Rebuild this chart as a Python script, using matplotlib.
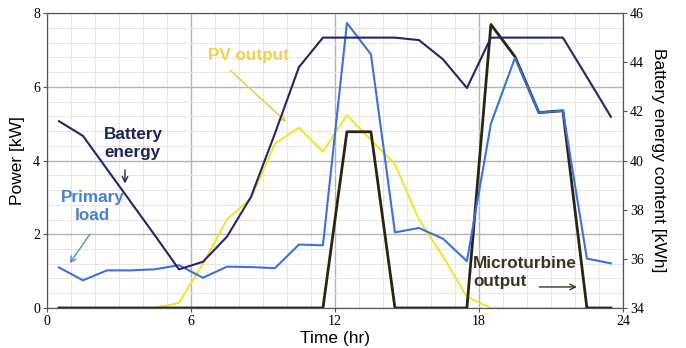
import matplotlib.pyplot as plt
from matplotlib.ticker import MultipleLocator

hours = [0.5, 1.5, 2.5, 3.5, 4.5, 5.5, 6.5, 7.5, 8.5, 9.5, 10.5, 11.5,
         12.5, 13.5, 14.5, 15.5, 16.5, 17.5, 18.5, 19.5, 20.5, 21.5, 22.5, 23.5]

# kW, left axis
primary_load = [1.10, 0.75, 1.02, 1.02, 1.05, 1.16, 0.82, 1.12, 1.11, 1.08, 1.72, 1.70,
                7.73, 6.88, 2.05, 2.17, 1.88, 1.27, 5.00, 6.78, 5.30, 5.35, 1.34, 1.21]
pv_output = [0, 0, 0, 0, 0, 0.14, 1.20, 2.40, 2.97, 4.46, 4.89, 4.24,
             5.23, 4.56, 3.90, 2.40, 1.40, 0.30, 0, 0, 0, 0, 0, 0]
microturbine = [0, 0, 0, 0, 0, 0, 0, 0, 0, 0, 0, 0,
                4.78, 4.78, 0, 0, 0, 0, 7.69, 6.82, 5.30, 5.35, 0, 0]

# kWh, right axis
battery_energy = [41.6, 41.0, 39.65, 38.3, 36.95, 35.57, 35.88, 36.9, 38.52, 41.1, 43.8, 45.0,
                  45.0, 45.0, 45.0, 44.9, 44.12, 42.95, 45.0, 45.0, 45.0, 45.0, 43.4, 41.78]

c_load = '#3a72dc'
c_pv = '#f2e224'
c_mt = '#2b2412'
c_bat = '#22256a'

fig = plt.figure(figsize=(6.86, 3.48), dpi=100)
ax = fig.add_axes([0.0685, 0.115, 0.8395, 0.8475])

ax.plot(hours, pv_output, color=c_pv, lw=1.4)
ax.plot(hours, microturbine, color=c_mt, lw=2.0)
ax.plot(hours, primary_load, color=c_load, lw=1.5)

ax.set_xlim(0, 24)
ax.set_ylim(0, 8)
ax.xaxis.set_major_locator(MultipleLocator(6))
ax.xaxis.set_minor_locator(MultipleLocator(1))
ax.yaxis.set_major_locator(MultipleLocator(2))
ax.yaxis.set_minor_locator(MultipleLocator(0.4))
ax.grid(which='major', color='#b4b4b4', lw=1.0)
ax.grid(which='minor', color='#e6e6e6', lw=0.7)
ax.set_axisbelow(True)
ax.tick_params(which='minor', length=0)
ax.tick_params(which='major', length=3, color='#555555', labelsize=10, pad=2)
for lab in ax.get_xticklabels() + ax.get_yticklabels():
    lab.set_family('Liberation Serif')
for s in ax.spines.values():
    s.set_color('#555555')

ax.set_xlabel('Time (hr)', fontsize=12.5, family='Liberation Sans', labelpad=2)
ax.set_ylabel('Power [kW]', fontsize=12.5, family='Liberation Sans', labelpad=6)

ax2 = ax.twinx()
ax2.plot(hours, battery_energy, color=c_bat, lw=1.5)
ax2.set_ylim(34, 46)
ax2.yaxis.set_major_locator(MultipleLocator(2))
ax2.tick_params(length=3, color='#555555', labelsize=10, pad=2)
for lab in ax2.get_yticklabels():
    lab.set_family('Liberation Serif')
for s in ax2.spines.values():
    s.set_color('#555555')
ax2.set_ylabel('Battery energy content [kWh]', fontsize=12.5, family='Liberation Sans',
               rotation=270, labelpad=16)

# annotations
ax.text(3.58, 4.47, 'Battery\nenergy', color='#1c2458', fontsize=12.3, fontweight='bold',
        family='Liberation Sans', ha='center', va='center', linespacing=1.25)
ax.annotate('', xy=(3.25, 3.3), xytext=(3.25, 3.82),
            arrowprops=dict(arrowstyle='->', color='#1c2458', lw=1.0))

ax.text(1.9, 2.74, 'Primary\nload', color='#4a80d4', fontsize=12.3, fontweight='bold',
        family='Liberation Sans', ha='center', va='center', linespacing=1.25)
ax.annotate('', xy=(0.88, 1.15), xytext=(1.85, 2.06),
            arrowprops=dict(arrowstyle='->', color='#5a8ad0', lw=1.0))

ax.text(8.4, 6.86, 'PV output', color='#f2d04a', fontsize=12.3, fontweight='bold',
        family='Liberation Sans', ha='center', va='center')
ax.annotate('', xy=(10.05, 5.0), xytext=(7.55, 6.5),
            arrowprops=dict(arrowstyle='->', color='#e8c838', lw=1.0))

ax.text(17.75, 0.95, 'Microturbine\noutput', color='#3a3322', fontsize=12.3, fontweight='bold',
        family='Liberation Sans', ha='left', va='center', linespacing=1.25)
ax.annotate('', xy=(22.2, 0.57), xytext=(20.4, 0.57),
            arrowprops=dict(arrowstyle='->', color='#3a3322', lw=1.0))

fig.savefig('out.png', dpi=100)
